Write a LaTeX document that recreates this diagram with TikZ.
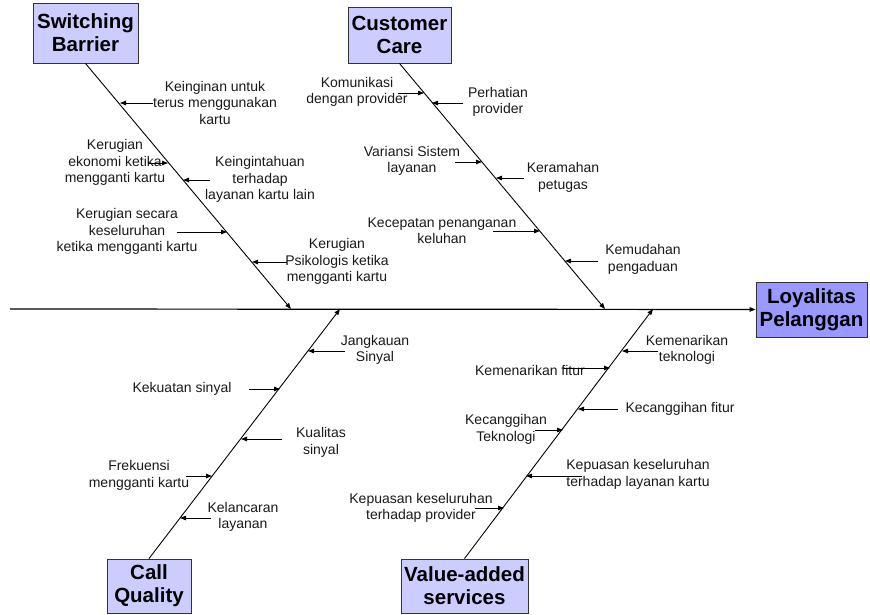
\documentclass[tikz,border=0pt]{standalone}
\usepackage{fontspec}
\setmainfont{Liberation Sans}
\usetikzlibrary{arrows.meta}

\begin{document}
\begin{tikzpicture}[x=1pt,y=-1pt]
            \useasboundingbox (0,0) rectangle (870,614);

            \begin{scope}[every node/.style={fill=blue!20, rectangle,draw=black!80,line width=0.9pt,inner sep=0pt,align=center,font=\fontsize{20.5}{23}\selectfont\bfseries}]
                \node (SB) [minimum width=105pt,minimum height=60pt] at (85.5,33) {Switching\\Barrier};
                \node (CC) [minimum width=103pt,minimum height=56pt] at (399.5,35) {Customer\\Care};
                \node (CQ) [minimum width=84pt,minimum height=54pt] at (149,586) {Call\\Quality};
                \node (VA) [minimum width=127pt,minimum height=54pt] at (464.5,586) {Value-added\\services};
                \node (LP) [fill=blue!40,minimum width=111pt,minimum height=55pt] at (811.5,309.5) {Loyalitas\\Pelanggan};
            \end{scope}

            \begin{scope}[every node/.style={inner sep=0pt,align=center,text=black!90,font=\fontsize{14}{16.5}\selectfont}]
                \node (K1) at (215,102.5) {Keinginan untuk\\terus menggunakan\\kartu};
                \node (K2) at (115,162.5) {Kerugian\\ekonomi ketika\\mengganti kartu};
                \node (K3) at (260,179.5) {Keingintahuan\\terhadap\\layanan kartu lain};
                \node (K4) at (127,231.5) {Kerugian secara\\keseluruhan\\ketika mengganti kartu};
                \node (K5) at (337,261.5) {Kerugian\\Psikologis ketika\\mengganti kartu};

                \node (C1) at (357,92) {Komunikasi\\dengan provider};
                \node (C2) at (498,102) {Perhatian\\provider};
                \node (C3) at (412,161) {Variansi Sistem\\layanan};
                \node (C4) at (563,177.5) {Keramahan\\petugas};
                \node (C5) at (442,230.5) {Kecepatan penanganan\\keluhan};
                \node (C6) at (643,259.5) {Kemudahan\\pengaduan};

                \node (Q1) at (375,350) {Jangkauan\\Sinyal};
                \node (Q2) at (182,389) {Kekuatan sinyal};
                \node (Q3) at (321,442.5) {Kualitas\\sinyal};
                \node (Q4) at (139,475.5) {Frekuensi\\mengganti kartu};
                \node (Q5) at (243,517) {Kelancaran\\layanan};

                \node (V1) at (687,350) {Kemenarikan\\teknologi};
                \node (V2) at (530,370) {Kemenarikan fitur};
                \node (V3) at (680,409) {Kecanggihan fitur};
                \node (V4) at (506,429.5) {Kecanggihan\\Teknologi};
                \node (V5) at (638,474.5) {Kepuasan keseluruhan\\terhadap layanan kartu};
                \node (V6) at (421,508) {Kepuasan keseluruhan\\terhadap provider};
            \end{scope}

            % spine and branch ends
            \coordinate (S) at (10,309);
            \coordinate (SB') at (291,309);
            \coordinate (CC') at (605,309);
            \coordinate (CQ') at (340,309);
            \coordinate (VA') at (653,309);

            % tails and heads of the small arrows
            \coordinate (a1) at (153,103); \coordinate (a1') at (120,103);
            \coordinate (a2) at (148,163); \coordinate (a2') at (168,163);
            \coordinate (a3) at (210,180); \coordinate (a3') at (183,180);
            \coordinate (a4) at (177,232); \coordinate (a4') at (227,232);
            \coordinate (a5) at (287,262); \coordinate (a5') at (252,262);

            \coordinate (b1) at (398,93);  \coordinate (b1') at (424,93);
            \coordinate (b2) at (463,103); \coordinate (b2') at (432,103);
            \coordinate (b3) at (455,162); \coordinate (b3') at (482,162);
            \coordinate (b4) at (524,178); \coordinate (b4') at (496,178);
            \coordinate (b5) at (493,231); \coordinate (b5') at (540,231);
            \coordinate (b6) at (598,261); \coordinate (b6') at (565,261);

            \coordinate (c1) at (345,351); \coordinate (c1') at (308,351);
            \coordinate (c2) at (249,389); \coordinate (c2') at (280,389);
            \coordinate (c3) at (282,439); \coordinate (c3') at (241,439);
            \coordinate (c4) at (186,476); \coordinate (c4') at (212,476);
            \coordinate (c5) at (211,518); \coordinate (c5') at (180,518);

            \coordinate (d1) at (658,351); \coordinate (d1') at (622,351);
            \coordinate (d2) at (563,368); \coordinate (d2') at (610,368);
            \coordinate (d3) at (618,409); \coordinate (d3') at (578,409);
            \coordinate (d4) at (535,430); \coordinate (d4') at (563,430);
            \coordinate (d5) at (582,476); \coordinate (d5') at (526,476);
            \coordinate (d6) at (475,508); \coordinate (d6') at (504,508);

            \begin{scope}[>={Triangle[length=6pt,width=4.5pt]},
                          every edge/.style={draw=black,line width=0.9pt}]
                \path [->] (S) edge [line width=1.2pt] (LP);
                \path [->] (SB.south) edge (SB');
                \path [->] (CC.south) edge (CC');
                \path [->] (CQ.north) edge (CQ');
                \path [->] (VA.north) edge (VA');
                \path [->] (a1) edge (a1');
                \path [->] (a2) edge (a2');
                \path [->] (a3) edge (a3');
                \path [->] (a4) edge (a4');
                \path [->] (a5) edge (a5');
                \path [->] (b1) edge (b1');
                \path [->] (b2) edge (b2');
                \path [->] (b3) edge (b3');
                \path [->] (b4) edge (b4');
                \path [->] (b5) edge (b5');
                \path [->] (b6) edge (b6');
                \path [->] (c1) edge (c1');
                \path [->] (c2) edge (c2');
                \path [->] (c3) edge (c3');
                \path [->] (c4) edge (c4');
                \path [->] (c5) edge (c5');
                \path [->] (d1) edge (d1');
                \path [->] (d2) edge (d2');
                \path [->] (d3) edge (d3');
                \path [->] (d4) edge (d4');
                \path [->] (d5) edge (d5');
                \path [->] (d6) edge (d6');
            \end{scope}
        \end{tikzpicture}
\end{document}
